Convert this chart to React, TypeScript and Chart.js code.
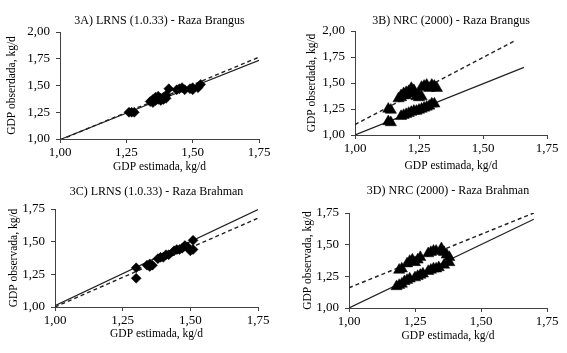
import React, { useEffect, useRef } from "react";
import { Chart, registerables } from "chart.js";

Chart.register(...registerables);

// ---------- data ----------
const xTickValues = [1, 1.25, 1.5, 1.75];
const yTicksBrangus = [1, 1.25, 1.5, 1.75, 2];
const yTicksBrahman = [1, 1.25, 1.5, 1.75];

// 3A) LRNS - Brangus
const aEst = [1.26, 1.27, 1.28, 1.34, 1.35, 1.35, 1.36, 1.36, 1.37, 1.37, 1.38, 1.38, 1.39, 1.39, 1.40, 1.40, 1.41, 1.44, 1.45, 1.46, 1.47, 1.49, 1.50, 1.50, 1.52, 1.53];
const aObs = [1.25, 1.25, 1.25, 1.35, 1.37, 1.34, 1.36, 1.39, 1.40, 1.37, 1.38, 1.36, 1.39, 1.37, 1.38, 1.41, 1.47, 1.46, 1.47, 1.48, 1.46, 1.47, 1.48, 1.46, 1.48, 1.51];
const aSolidX = [1.0, 1.75];
const aSolidY = [0.995, 1.735];
const aDashX = [1.0, 1.75];
const aDashY = [0.99, 1.765];

// 3B) NRC - Brangus
const bEst = [1.13, 1.14, 1.17, 1.18, 1.18, 1.19, 1.19, 1.20, 1.20, 1.21, 1.22, 1.22, 1.23, 1.23, 1.24, 1.25, 1.25, 1.26, 1.26, 1.27, 1.28, 1.29, 1.30, 1.30, 1.31, 1.32,
  1.13, 1.14, 1.18, 1.19, 1.20, 1.21, 1.22, 1.23, 1.24, 1.25, 1.26, 1.27, 1.28, 1.29, 1.30, 1.31];
const bObs = [1.25, 1.24, 1.35, 1.36, 1.38, 1.38, 1.40, 1.41, 1.38, 1.42, 1.45, 1.40, 1.40, 1.43, 1.37, 1.38, 1.36, 1.37, 1.46, 1.47, 1.48, 1.45, 1.48, 1.46, 1.47, 1.45,
  1.13, 1.12, 1.18, 1.19, 1.20, 1.21, 1.22, 1.23, 1.23, 1.24, 1.25, 1.26, 1.27, 1.28, 1.30, 1.30];
const bSolidX = [1.0, 1.66];
const bSolidY = [1.0, 1.65];
const bDashX = [1.0, 1.62];
const bDashY = [1.10, 1.90];

// 3C) LRNS - Brahman
const cEst = [1.30, 1.30, 1.34, 1.35, 1.35, 1.36, 1.38, 1.39, 1.40, 1.41, 1.42, 1.44, 1.45, 1.46, 1.47, 1.48, 1.49, 1.51, 1.51, 1.50];
const cObs = [1.30, 1.22, 1.32, 1.33, 1.31, 1.32, 1.37, 1.38, 1.38, 1.40, 1.40, 1.43, 1.44, 1.44, 1.45, 1.47, 1.46, 1.51, 1.44, 1.43];
const cSolidX = [1.0, 1.75];
const cSolidY = [1.01, 1.745];
const cDashX = [1.0, 1.75];
const cDashY = [1.0, 1.68];

// 3D) NRC - Brahman
const dEst = [1.19, 1.20, 1.22, 1.23, 1.24, 1.25, 1.26, 1.27, 1.30, 1.31, 1.32, 1.33, 1.35, 1.36, 1.37, 1.38,
  1.18, 1.19, 1.20, 1.21, 1.22, 1.23, 1.25, 1.26, 1.27, 1.28, 1.30, 1.31, 1.32, 1.33, 1.34, 1.36, 1.38];
const dObs = [1.30, 1.31, 1.35, 1.37, 1.38, 1.36, 1.38, 1.40, 1.43, 1.44, 1.45, 1.45, 1.47, 1.44, 1.42, 1.40,
  1.17, 1.18, 1.19, 1.21, 1.22, 1.23, 1.24, 1.25, 1.26, 1.27, 1.29, 1.30, 1.31, 1.31, 1.32, 1.34, 1.36];
const dSolidX = [1.0, 1.70];
const dSolidY = [1.0, 1.70];
const dDashX = [1.0, 1.70];
const dDashY = [1.16, 1.75];

const titles = [
  "3A) LRNS (1.0.33) - Raza Brangus",
  "3B) NRC (2000) - Raza Brangus",
  "3C) LRNS (1.0.33) - Raza Brahman",
  "3D) NRC (2000) - Raza Brahman",
];
const xTitle = "GDP estimada, kg/d";
const yTitles = ["GDP obserdada, kg/d", "GDP obserdada, kg/d", "GDP observada, kg/d", "GDP observada, kg/d"];

// ---------- helpers ----------
const zip = (xs: number[], ys: number[]) => xs.map((x, i) => ({ x, y: ys[i] }));
const fmt = (v: number | string) => Number(v).toFixed(2).replace(".", ",");
const FONT = "'Liberation Serif', 'Times New Roman', serif";
const AXIS = "#404040";

type PanelProps = {
  left: number; top: number; w: number; h: number;
  title: string; yTitle: string;
  est: number[]; obs: number[];
  sx: number[]; sy: number[]; dx: number[]; dy: number[];
  yTicks: number[];
  marker: "rectRot" | "triangle"; radius: number;
  yWidth: number; xHeight: number;
  padR: number; padB: number;
  tTop: number; tBot: number; yTitlePad: number;
};

function Panel(p: PanelProps) {
  const ref = useRef<HTMLCanvasElement>(null);
  useEffect(() => {
    if (!ref.current) return;
    const yMax = p.yTicks[p.yTicks.length - 1];
    const chart = new Chart(ref.current, {
      type: "scatter",
      data: {
        datasets: [
          {
            type: "line",
            data: zip(p.sx, p.sy),
            borderColor: "#222",
            borderWidth: 1.2,
            pointRadius: 0,
            fill: false,
            order: 2,
          } as any,
          {
            type: "line",
            data: zip(p.dx, p.dy),
            borderColor: "#222",
            borderWidth: 1.4,
            borderDash: [4, 3],
            pointRadius: 0,
            fill: false,
            order: 2,
          } as any,
          {
            type: "scatter",
            data: zip(p.est, p.obs),
            pointStyle: p.marker,
            pointRadius: p.radius,
            pointBackgroundColor: "#000",
            pointBorderColor: "#000",
            pointBorderWidth: 0.5,
            order: 1,
          } as any,
        ],
      },
      options: {
        animation: false,
        responsive: false,
        maintainAspectRatio: false,
        layout: { padding: { left: 0, right: p.padR, top: 0, bottom: p.padB } },
        plugins: {
          legend: { display: false },
          tooltip: { enabled: false },
          title: {
            display: true,
            text: p.title,
            fullSize: false,
            color: "#000",
            font: { family: FONT, size: 12, weight: "normal" },
            padding: { top: p.tTop, bottom: p.tBot },
          },
        },
        scales: {
          x: {
            type: "linear",
            min: 1,
            max: 1.75,
            afterBuildTicks: (s: any) => { s.ticks = xTickValues.map((v) => ({ value: v })); },
            afterFit: (s: any) => { s.height = p.xHeight; },
            ticks: { callback: (v: any) => fmt(v), color: "#000", font: { family: FONT, size: 13 }, padding: 2, maxRotation: 0, autoSkip: false },
            grid: { display: true, drawOnChartArea: false, drawTicks: true, tickLength: 4, color: AXIS, lineWidth: 1 },
            border: { display: true, color: AXIS, width: 1 },
            title: { display: true, text: xTitle, color: "#000", font: { family: FONT, size: 11.5 }, padding: { top: 0, bottom: 0 } },
          },
          y: {
            type: "linear",
            min: 1,
            max: yMax,
            afterBuildTicks: (s: any) => { s.ticks = p.yTicks.map((v) => ({ value: v })); },
            afterFit: (s: any) => { s.width = p.yWidth; },
            ticks: { callback: (v: any) => fmt(v), color: "#000", font: { family: FONT, size: 13 }, padding: 6, autoSkip: false },
            grid: { display: true, drawOnChartArea: false, drawTicks: true, tickLength: 4, color: AXIS, lineWidth: 1 },
            border: { display: true, color: AXIS, width: 1 },
            title: { display: true, text: p.yTitle, color: "#000", font: { family: FONT, size: 11.5 }, padding: { top: p.yTitlePad, bottom: 0 } },
          },
        },
      } as any,
    });
    return () => chart.destroy();
  }, []);
  return (
    <canvas
      ref={ref}
      width={p.w}
      height={p.h}
      style={{ position: "absolute", left: p.left, top: p.top, width: p.w, height: p.h }}
    />
  );
}

export default function App() {
  return (
    <div style={{ position: "absolute", left: 0, top: 0, width: 567, height: 353, background: "#fff", overflow: "hidden" }}>
      <Panel left={0} top={0} w={283} h={176} title={titles[0]} yTitle={yTitles[0]}
        est={aEst} obs={aObs} sx={aSolidX} sy={aSolidY} dx={aDashX} dy={aDashY}
        yTicks={yTicksBrangus} marker="rectRot" radius={5}
        yWidth={60} xHeight={35} padR={24} padB={2} tTop={14} tBot={3.6} yTitlePad={5} />
      <Panel left={283} top={0} w={284} h={176} title={titles[1]} yTitle={yTitles[1]}
        est={bEst} obs={bObs} sx={bSolidX} sy={bSolidY} dx={bDashX} dy={bDashY}
        yTicks={yTicksBrangus} marker="triangle" radius={6.5}
        yWidth={72} xHeight={38} padR={20} padB={3} tTop={14} tBot={2.6} yTitlePad={22} />
      <Panel left={0} top={176} w={283} h={177} title={titles[2]} yTitle={yTitles[2]}
        est={cEst} obs={cObs} sx={cSolidX} sy={cSolidY} dx={cDashX} dy={cDashY}
        yTicks={yTicksBrahman} marker="rectRot" radius={5}
        yWidth={55} xHeight={34} padR={25} padB={12} tTop={8.8} tBot={9.8} yTitlePad={7} />
      <Panel left={283} top={176} w={284} h={177} title={titles[3]} yTitle={yTitles[3]}
        est={dEst} obs={dObs} sx={dSolidX} sy={dSolidY} dx={dDashX} dy={dDashY}
        yTicks={yTicksBrahman} marker="triangle" radius={6.5}
        yWidth={66} xHeight={35} padR={20} padB={10} tTop={7.8} tBot={14.8} yTitlePad={18} />
    </div>
  );
}
